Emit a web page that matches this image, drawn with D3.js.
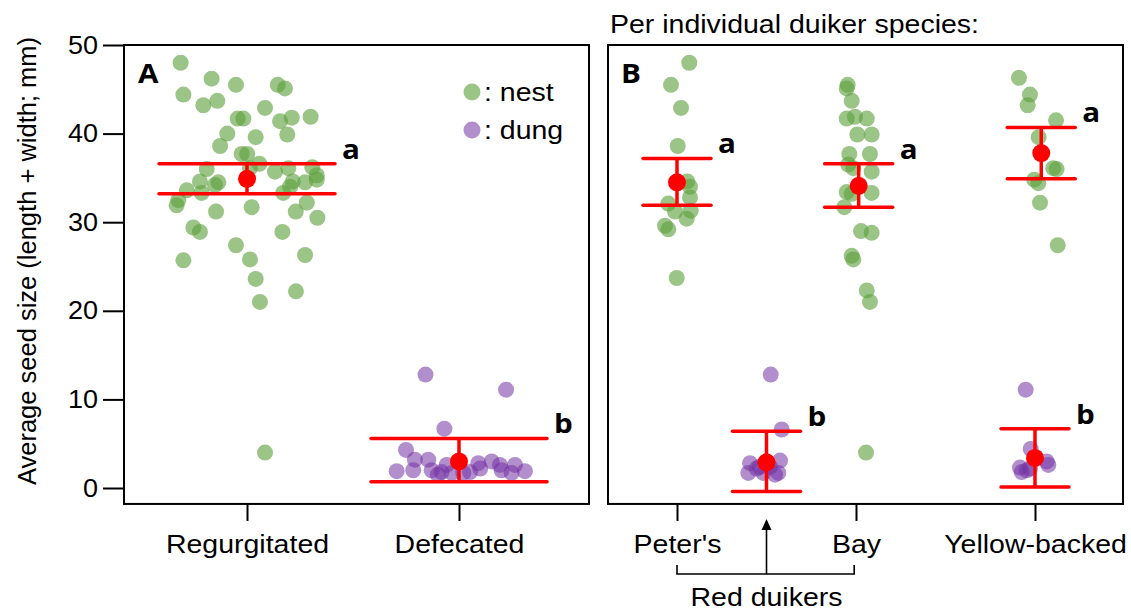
<!DOCTYPE html>
<html>
<head>
<meta charset="utf-8">
<script src="https://cdn.jsdelivr.net/npm/d3@7"></script>
<style>
  html, body { margin: 0; padding: 0; background: #fff; }
  svg { display: block; }
  text { font-family: "Liberation Sans", Arial, Helvetica, sans-serif; fill: #000; }
  .bold { font-family: "Open Sans", "Liberation Sans", sans-serif; font-weight: 700; }
</style>
</head>
<body>
<svg id="chart" width="1131" height="612"></svg>
<script>
// ---------------- DATA ----------------
const yTicks = [0, 10, 20, 30, 40, 50];
const yLabel = "Average seed size (length + width; mm)";
const panelBTitle = "Per individual duiker species:";
const panelACategories = ["Regurgitated", "Defecated"];      // positions 0, 1
const panelBCategories = ["Peter's", "Bay", "Yellow-backed"]; // positions 0, 2, 4
const panelBCategoryPos = [0, 2, 4];
const redDuikerPos = 1;
const legendItems = [":\u00a0nest", ":\u00a0dung"];

// points: [category position + jitter, seed size]
const regurgitatedNest = [
  [-0.313,48.0],[-0.167,46.2],[-0.052,45.5],[-0.300,44.4],[0.145,45.5],[0.179,45.1],
  [-0.206,43.2],[-0.140,43.7],[0.085,42.9],[-0.044,41.7],[-0.017,41.7],[0.156,41.4],
  [0.211,41.8],[0.300,41.9],[-0.093,40.0],[0.041,39.6],[0.190,39.9],[-0.127,38.6],
  [-0.025,37.7],[0.001,37.7],[0.058,36.6],[-0.190,36.0],[0.014,36.1],[0.132,35.7],
  [0.195,36.1],[0.308,36.2],[0.329,35.3],[0.329,34.8],[0.216,34.6],[0.274,34.5],
  [-0.222,34.6],[-0.135,34.5],[-0.151,34.2],[-0.284,33.6],[-0.214,33.3],[0.171,33.3],
  [0.203,34.0],[-0.324,32.5],[-0.332,31.9],[0.022,31.7],[-0.146,31.2],[0.230,31.2],
  [0.282,32.2],[0.332,30.5],[-0.253,29.4],[-0.222,28.9],[0.167,28.9],[-0.052,27.4],
  [0.014,25.8],[-0.300,25.7],[0.274,26.3],[0.041,23.6],[0.231,22.2],[0.061,21.0],
  [0.085,4.0]
];
const defecatedDung = [
  [0.842,12.8],[1.222,11.1],[0.931,6.7],[0.750,4.3],[0.792,3.2],[0.855,3.2],
  [0.706,1.9],[0.784,2.0],[0.871,2.0],[0.918,1.8],[0.942,2.6],[0.966,1.7],
  [1.020,1.7],[1.052,1.8],[1.091,2.8],[1.154,3.0],[1.193,2.6],[1.201,2.0],
  [1.264,2.6],[1.248,1.7],[1.311,1.9],[0.900,1.5],[1.100,2.2]
];
const petersNest = [
  [0.137,48.0],[-0.067,45.5],[0.045,42.9],[0.008,38.6],[0.115,34.6],[0.145,34.0],
  [0.145,32.8],[-0.097,32.1],[-0.022,31.2],[0.153,31.3],[0.108,30.4],[-0.134,29.6],
  [-0.097,29.2],[-0.003,23.7]
];
const bayNest = [
  [1.907,45.5],[1.896,45.1],[1.952,43.7],[1.896,41.7],[1.989,41.9],[2.120,41.7],
  [2.015,39.9],[2.175,39.9],[1.925,37.7],[2.156,37.7],[1.914,36.5],[1.970,36.1],
  [2.175,35.7],[1.896,33.4],[1.952,33.2],[2.175,33.3],[1.869,31.7],[2.056,29.0],
  [2.175,28.8],[1.952,26.2],[1.970,25.8],[2.120,22.3],[2.156,21.0],[2.112,4.0]
];
const yellowNest = [
  [3.821,46.3],[3.944,44.4],[3.918,43.2],[4.235,41.5],[4.041,39.6],[4.204,36.1],
  [4.242,36.0],[3.992,34.8],[4.037,34.4],[4.056,32.2],[4.254,27.4]
];
const redDung = [
  [1.047,12.8],[1.170,6.6],[0.816,2.8],[1.151,3.1],[0.797,1.7],[0.891,2.2],
  [0.964,1.7],[1.095,1.5],[1.132,1.7],[1.039,2.4],[0.927,2.4]
];
const yellowDung = [
  [3.896,11.1],[3.952,4.4],[4.131,3.0],[4.149,2.6],[3.832,2.3],[3.851,1.8],
  [3.907,2.0],[3.944,2.2]
];
// mean with confidence interval + significance letter
const panelASummary = [
  { x: 0, mean: 34.9, lo: 33.2, hi: 36.6, letter: "a" },
  { x: 1, mean: 3.0,  lo: 0.7,  hi: 5.6,  letter: "b" }
];
const panelBSummary = [
  { x: 0,    mean: 34.5, lo: 31.9, hi: 37.2, letter: "a" },
  { x: 1,    mean: 2.9,  lo: -0.4, hi: 6.4,  letter: "b" },
  { x: 2.03, mean: 34.1, lo: 31.7, hi: 36.6, letter: "a" },
  { x: 4.07, mean: 37.8, lo: 34.9, hi: 40.7, letter: "a" },
  { x: 4,    mean: 3.4,  lo: 0.1,  hi: 6.7,  letter: "b" }
];

// ---------------- STYLE / LAYOUT ----------------
const GREEN = "#5e9f3e", PURPLE = "#7232a4", RED = "#ff0000";
const SX = 1.14; // horizontal text stretch of the original
const svg = d3.select("#chart");
const y = d3.scaleLinear().domain([0, 50]).range([488, 45]);
const frameBottomValue = -1.8;
const xA = d3.scaleLinear().domain([0, 1]).range([247, 459]);
const xB = d3.scaleLinear().domain([0, 4]).range([677, 1035]);
const frameA = { x0: 124, x1: 589 };
const frameB = { x0: 608, x1: 1123 };

function stretchText(sel) {
  sel.each(function () {
    const t = d3.select(this);
    const x = +t.attr("x") || 0;
    t.attr("transform", `translate(${x},0) scale(${SX},1)`).attr("x", 0);
  });
}
function label(x, yy, str, size, anchor, cls) {
  svg.append("text")
    .attr("class", cls || null)
    .attr("transform", `translate(${x},${yy}) scale(${SX},1)`)
    .attr("text-anchor", anchor || "start")
    .style("font-size", size + "px")
    .text(str);
}

// frames
[frameA, frameB].forEach(f => {
  svg.append("rect")
    .attr("x", f.x0).attr("y", y(50))
    .attr("width", f.x1 - f.x0).attr("height", y(frameBottomValue) - y(50))
    .attr("fill", "none").attr("stroke", "#000").attr("stroke-width", 2);
});

// y axis
const gy = svg.append("g").attr("transform", `translate(${frameA.x0},0)`)
  .call(d3.axisLeft(y).tickValues(yTicks).tickSize(21).tickPadding(5));
gy.select(".domain").remove();
gy.selectAll(".tick line").attr("stroke", "#000").attr("stroke-width", 2);
gy.selectAll(".tick text").style("font-size", "25px").style("font-family", null).attr("fill", "#000");
gy.selectAll(".tick text").each(function () {
  const t = d3.select(this);
  t.attr("transform", `translate(${t.attr("x")},0) scale(1.08,1)`).attr("x", 0);
});

svg.append("text")
  .attr("transform", `translate(27,261) rotate(-90)`)
  .attr("text-anchor", "middle").attr("dominant-baseline", "central")
  .style("font-size", "25.5px").text(yLabel);

// x axes
function xAxis(scale, vals, fmt) {
  const g = svg.append("g").attr("transform", `translate(0,${y(frameBottomValue)})`)
    .call(d3.axisBottom(scale).tickValues(vals).tickFormat(fmt).tickSize(17).tickPadding(14));
  g.select(".domain").remove();
  g.selectAll(".tick line").attr("stroke", "#000").attr("stroke-width", 2);
  g.selectAll(".tick text").style("font-size", "25px").style("font-family", null).attr("fill", "#000");
  g.selectAll(".tick text").call(stretchText);
}
xAxis(xA, [0, 1], (d, i) => panelACategories[i]);
xAxis(xB, panelBCategoryPos, (d, i) => panelBCategories[i]);

// red duikers bracket + arrow
const bracketY = 574;
svg.append("path")
  .attr("d", `M${xB(0)},${bracketY - 9}V${bracketY}H${xB(1.98)}V${bracketY - 9}`)
  .attr("fill", "none").attr("stroke", "#000").attr("stroke-width", 1.6);
svg.append("line")
  .attr("x1", xB(redDuikerPos)).attr("x2", xB(redDuikerPos))
  .attr("y1", bracketY).attr("y2", 527)
  .attr("stroke", "#000").attr("stroke-width", 1.6);
svg.append("path")
  .attr("d", `M${xB(redDuikerPos)},519L${xB(redDuikerPos) - 5},530L${xB(redDuikerPos) + 5},530Z`)
  .attr("fill", "#000");
label(xB(redDuikerPos), 606, "Red duikers", 25, "middle");

// title of panel B
label(610, 33, panelBTitle, 25, "start");

// panel letters
label(138, 83, "A", 26, "start", "bold");
label(621, 83, "B", 26, "start", "bold");

// points
function dots(data, scale, color, op) {
  svg.append("g").selectAll("circle").data(data).join("circle")
    .attr("cx", d => scale(d[0])).attr("cy", d => y(d[1])).attr("r", 8)
    .attr("fill", color).attr("fill-opacity", op);
}
dots(regurgitatedNest, xA, GREEN, 0.62);
dots(defecatedDung, xA, PURPLE, 0.55);
dots(petersNest, xB, GREEN, 0.62);
dots(bayNest, xB, GREEN, 0.62);
dots(yellowNest, xB, GREEN, 0.62);
dots(redDung, xB, PURPLE, 0.55);
dots(yellowDung, xB, PURPLE, 0.55);

// error bars
function errorBars(summary, scale, capHalf) {
  const g = svg.append("g");
  summary.forEach(s => {
    const cx = scale(s.x);
    g.append("line").attr("x1", cx).attr("x2", cx).attr("y1", y(s.lo)).attr("y2", y(s.hi))
      .attr("stroke", RED).attr("stroke-width", 3.5);
    [s.lo, s.hi].forEach(v => {
      g.append("line").attr("x1", cx - capHalf).attr("x2", cx + capHalf)
        .attr("y1", y(v)).attr("y2", y(v))
        .attr("stroke", RED).attr("stroke-width", 3.5).attr("stroke-linecap", "round");
    });
    g.append("circle").attr("cx", cx).attr("cy", y(s.mean)).attr("r", 9).attr("fill", RED);
    label(cx + capHalf + 7, y(s.hi) - 5, s.letter, 26, "start", "bold");
  });
}
errorBars(panelASummary, xA, 88);
errorBars(panelBSummary, xB, 34);

// legend
legendItems.forEach((t, i) => {
  const cy = 92 + i * 38;
  svg.append("circle").attr("cx", 472).attr("cy", cy).attr("r", 8.5)
    .attr("fill", i === 0 ? GREEN : PURPLE).attr("fill-opacity", i === 0 ? 0.62 : 0.55);
  label(484, cy + 9, t, 25, "start");
});
</script>
</body>
</html>
